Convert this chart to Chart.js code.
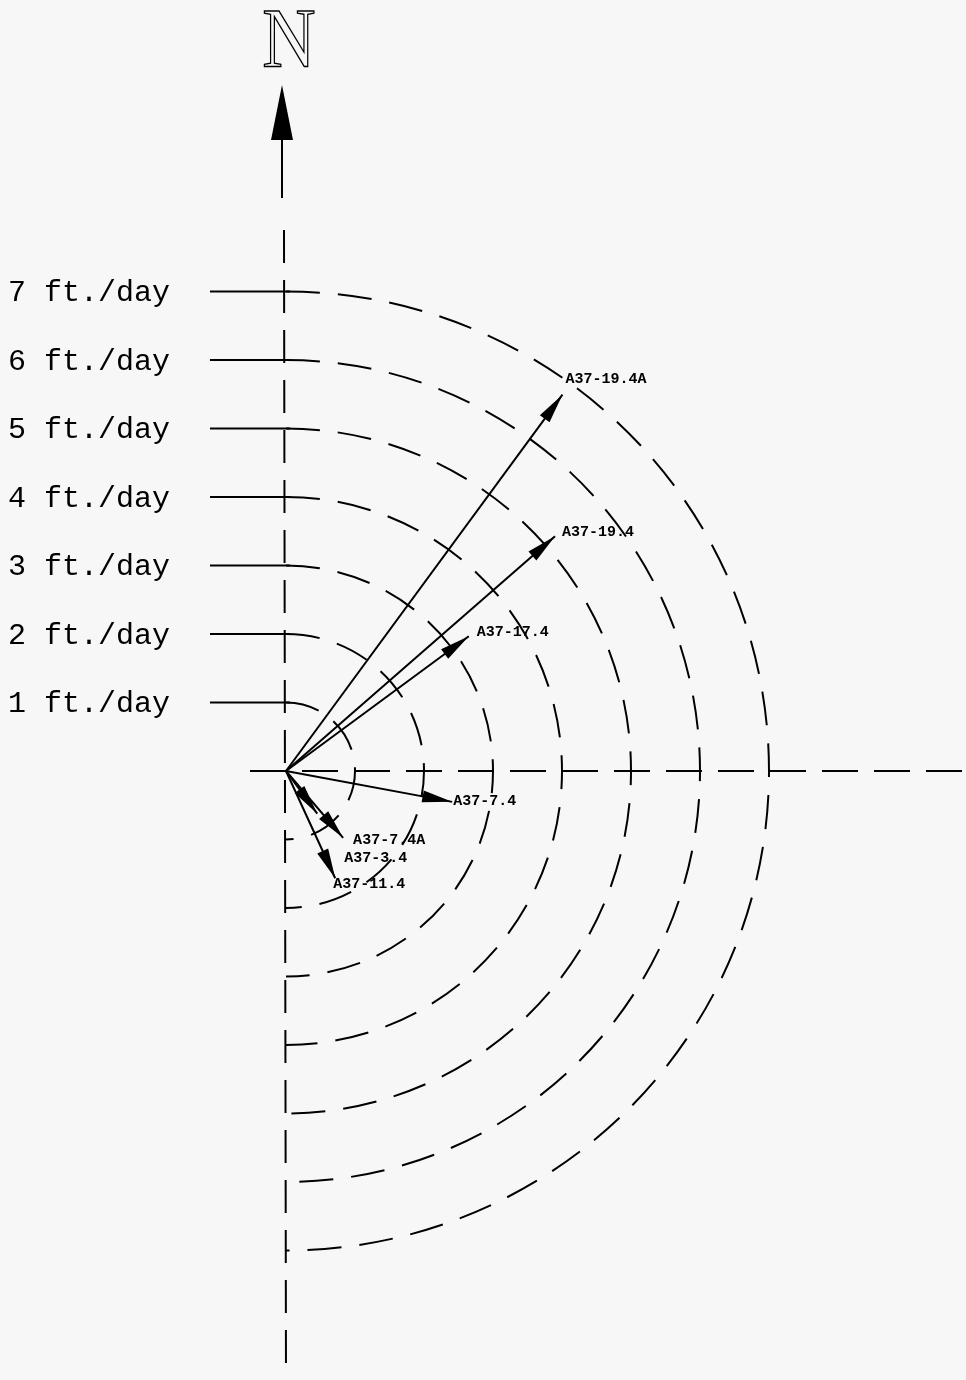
<!DOCTYPE html>
<html>
<head>
<meta charset="utf-8">
<script src="https://cdn.jsdelivr.net/npm/chart.js@4.4.1/dist/chart.umd.min.js"></script>
<style>
  html, body { margin: 0; padding: 0; background: #f7f7f7; }
  canvas { display: block; }
</style>
</head>
<body>
<canvas id="flow-chart" width="966" height="1380"></canvas>
<script>
// wells and their flow vectors (speed in ft./day, bearing in degrees clockwise from north)
var wells    = ['A37-19.4A', 'A37-19.4', 'A37-17.4', 'A37-7.4', 'A37-7.4A', 'A37-3.4', 'A37-11.4'];
var speeds   = [6.80, 5.19, 3.30, 2.45, 1.28, 0.77, 1.72];
var bearings = [36.1, 48.7, 53.4, 100.6, 139.7, 144.0, 155.5];

// speed rings
var rings      = [1, 2, 3, 4, 5, 6, 7];
var ringLabels = ['1 ft./day', '2 ft./day', '3 ft./day', '4 ft./day', '5 ft./day', '6 ft./day', '7 ft./day'];

// where each well label sits relative to its arrow tip (px)
var labelNudge = {
    'A37-19.4A': [3, -15],
    'A37-19.4':  [7, -4],
    'A37-17.4':  [8, -4],
    'A37-7.4':   [1, -1],
    'A37-7.4A':  [10, 2],
    'A37-3.4':   [27, 45],
    'A37-11.4':  [-2, 6]
};

var INK = '#000';

// one line dataset per well, from the origin out to the vector tip
var datasets = wells.map(function (w, i) {
    var rad = bearings[i] * Math.PI / 180;
    return {
        label: w,
        data: [{x: 0, y: 0}, {x: speeds[i] * Math.sin(rad), y: speeds[i] * Math.cos(rad)}],
        showLine: true,
        borderColor: INK,
        borderWidth: 2,
        pointRadius: 0
    };
});

function arrowHead(ctx, fx, fy, tx, ty, len, half) {
    var a = Math.atan2(ty - fy, tx - fx);
    ctx.beginPath();
    ctx.moveTo(tx, ty);
    ctx.lineTo(tx - len * Math.cos(a) + half * Math.sin(a), ty - len * Math.sin(a) - half * Math.cos(a));
    ctx.lineTo(tx - len * Math.cos(a) - half * Math.sin(a), ty - len * Math.sin(a) + half * Math.cos(a));
    ctx.closePath();
    ctx.fill();
}

// compass cross, dashed speed rings and ring labels, drawn under the vectors
var ringPlugin = {
    id: 'rings',
    beforeDatasetsDraw: function (chart) {
        var ctx = chart.ctx, xs = chart.scales.x, ys = chart.scales.y;
        var x0 = xs.getPixelForValue(0), y0 = ys.getPixelForValue(0);
        ctx.save();
        ctx.strokeStyle = INK;
        ctx.fillStyle = INK;
        ctx.lineWidth = 2;

        // east-west axis
        ctx.setLineDash([36, 16]);
        ctx.beginPath();
        ctx.moveTo(x0 - 36, y0);
        ctx.lineTo(chart.width, y0);
        ctx.stroke();

        // north-south axis
        ctx.setLineDash([33, 17]);
        ctx.beginPath();
        ctx.moveTo(x0 - 2, 230);
        ctx.lineTo(x0, chart.height);
        ctx.stroke();

        // north arrow
        ctx.setLineDash([]);
        ctx.beginPath();
        ctx.moveTo(x0 - 4, 138);
        ctx.lineTo(x0 - 4, 198);
        ctx.stroke();
        arrowHead(ctx, x0 - 4, 200, x0 - 4, 85, 55, 11);

        ctx.save();
        ctx.translate(x0 + 3, 67);
        ctx.scale(0.88, 1);
        ctx.font = '84px "Liberation Serif", serif';
        ctx.textAlign = 'center';
        ctx.lineWidth = 1.4;
        ctx.strokeText('N', 0, 0);
        ctx.restore();

        // rings, each with its solid leader line and label
        ctx.font = '30px "Courier New", "Liberation Mono", monospace';
        ctx.textBaseline = 'middle';
        ctx.textAlign = 'left';
        rings.forEach(function (r, i) {
            var rx = xs.getPixelForValue(r) - x0;
            var ry = y0 - ys.getPixelForValue(r);
            ctx.setLineDash([34, 18]);
            ctx.beginPath();
            ctx.ellipse(x0, y0, rx, ry, 0, -Math.PI / 2, Math.PI / 2);
            ctx.stroke();

            ctx.setLineDash([]);
            ctx.beginPath();
            ctx.moveTo(210, y0 - ry);
            ctx.lineTo(x0 + 4, y0 - ry);
            ctx.stroke();
            ctx.fillText(ringLabels[i], 8, y0 - ry + 2);
        });
        ctx.restore();
    },
    // arrowheads and well names on top of the vectors
    afterDatasetsDraw: function (chart) {
        var ctx = chart.ctx;
        ctx.save();
        ctx.fillStyle = INK;
        ctx.font = 'bold 15px "Courier New", "Liberation Mono", monospace';
        ctx.textBaseline = 'middle';
        chart.data.datasets.forEach(function (ds, i) {
            var pts = chart.getDatasetMeta(i).data;
            var a = pts[0], b = pts[1];
            arrowHead(ctx, a.x, a.y, b.x, b.y, 30, 6);
            var n = labelNudge[ds.label] || [4, 0];
            ctx.fillText(ds.label, b.x + n[0], b.y + n[1]);
        });
        ctx.restore();
    }
};

var ctx = document.getElementById('flow-chart').getContext('2d');
var chart = new Chart(ctx, {
    type: 'scatter',
    data: { datasets: datasets },
    options: {
        responsive: false,
        animation: false,
        layout: { padding: 0 },
        plugins: {
            legend: { display: false },
            tooltip: { enabled: false }
        },
        scales: {
            x: { type: 'linear', min: -286 / 69, max: 680 / 69, display: false },
            y: { type: 'linear', min: -609 / 68.5, max: 771 / 68.5, display: false }
        }
    },
    plugins: [ringPlugin]
});
</script>
</body>
</html>
